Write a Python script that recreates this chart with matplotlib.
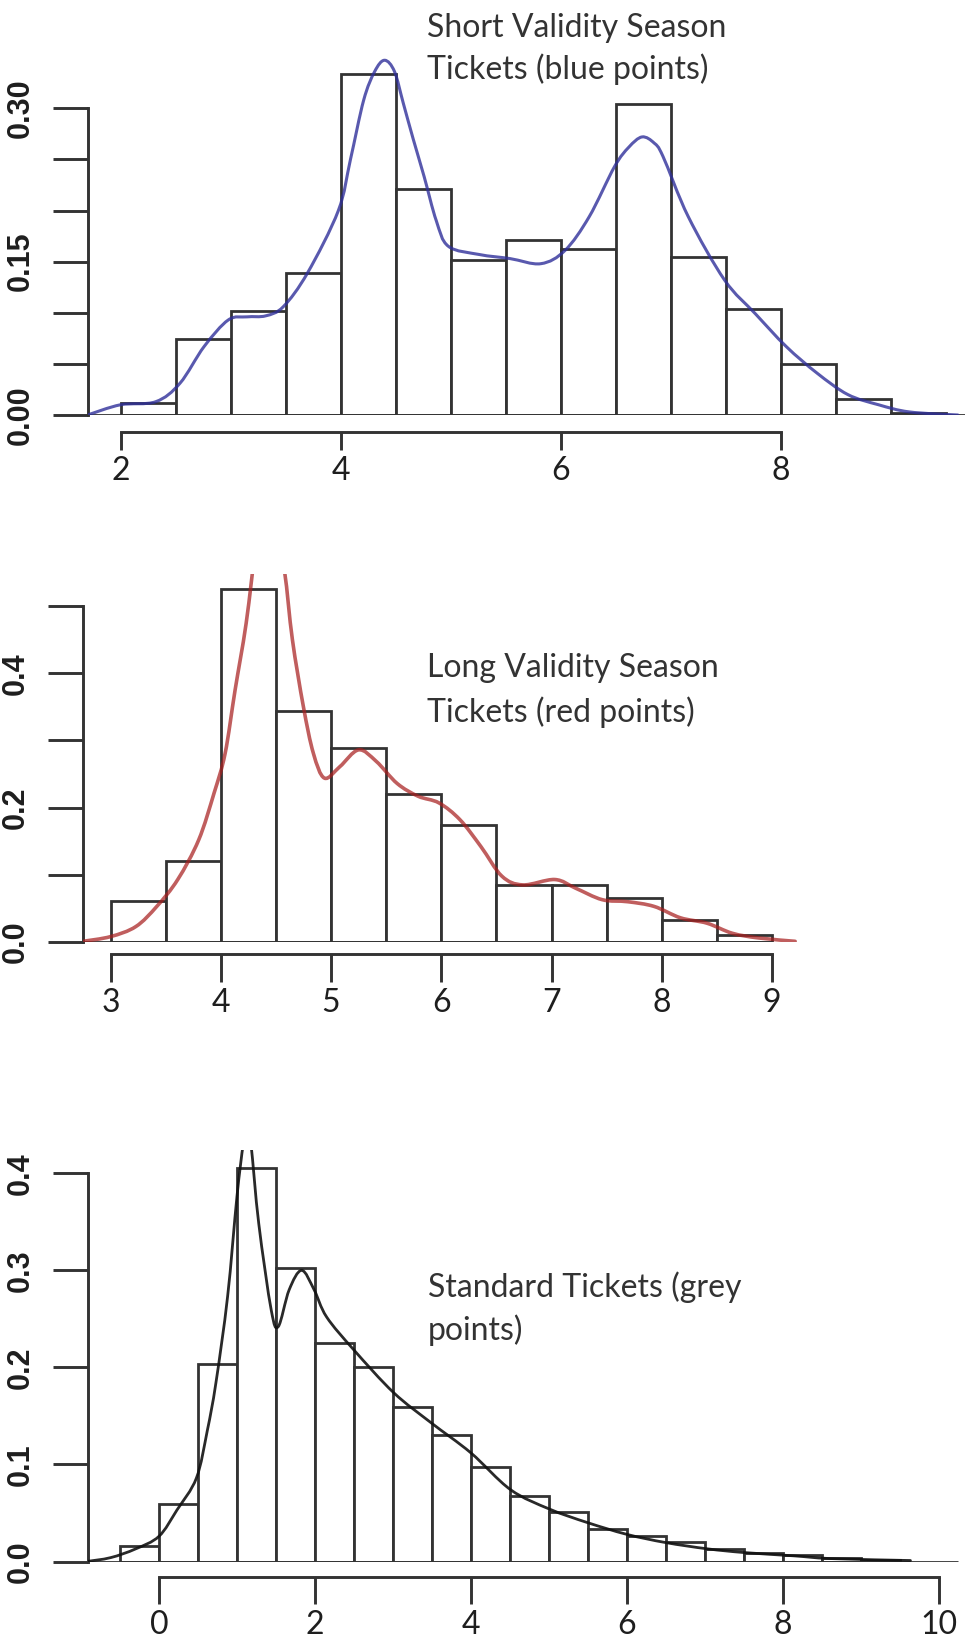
import matplotlib
matplotlib.use('Agg')
import matplotlib.pyplot as plt
from matplotlib.path import Path
from matplotlib.patches import PathPatch
import numpy as np

W, H = 965, 1641
BIN = 0.5

# short validity season tickets
short_start = 2.0
short_density = [0.012, 0.074, 0.102, 0.139, 0.334, 0.221, 0.152, 0.171, 0.162,
                 0.304, 0.155, 0.104, 0.050, 0.016, 0.002]
short_kde_x = [1.70, 2.00, 2.32, 2.54, 2.76, 2.98, 3.15, 3.32, 3.48, 3.70, 3.98, 4.09,
               4.21, 4.31, 4.40, 4.49, 4.57, 4.66, 4.76, 4.87, 4.98, 5.26, 5.54, 5.82,
               6.04, 6.26, 6.49, 6.62, 6.74, 6.85, 6.93, 7.16, 7.49, 7.77, 8.05, 8.33,
               8.61, 8.89, 9.17, 9.61]
short_kde_y = [0.000, 0.010, 0.013, 0.031, 0.067, 0.093, 0.096, 0.097, 0.106, 0.139, 0.200, 0.250,
               0.308, 0.336, 0.347, 0.336, 0.305, 0.270, 0.233, 0.190, 0.165, 0.157, 0.153, 0.148,
               0.161, 0.194, 0.243, 0.262, 0.272, 0.266, 0.253, 0.194, 0.132, 0.099, 0.067, 0.041,
               0.020, 0.010, 0.003, 0.000]

# long validity season tickets
long_start = 3.0
long_density = [0.0605, 0.120, 0.525, 0.344, 0.289, 0.220, 0.174, 0.085, 0.085, 0.066, 0.033, 0.011]
long_kde_x = [2.75, 3.00, 3.23, 3.42, 3.61, 3.80, 3.94, 4.04, 4.13, 4.23, 4.33, 4.42, 4.51, 4.58,
              4.65, 4.75, 4.84, 4.94, 5.08, 5.25, 5.41, 5.60, 5.79, 5.98, 6.17, 6.36, 6.55, 6.74,
              7.03, 7.22, 7.46, 7.69, 7.93, 8.17, 8.41, 8.64, 8.88, 9.21]
long_kde_y = [0.001, 0.008, 0.023, 0.053, 0.093, 0.152, 0.222, 0.281, 0.375, 0.474, 0.600, 0.640,
              0.600, 0.550, 0.450, 0.350, 0.281, 0.244, 0.261, 0.286, 0.269, 0.236, 0.217, 0.207,
              0.182, 0.142, 0.098, 0.085, 0.093, 0.080, 0.063, 0.060, 0.053, 0.036, 0.028, 0.013,
              0.006, 0.001]

# standard tickets
std_start = -0.5
std_density = [0.016, 0.059, 0.204, 0.405, 0.302, 0.225, 0.200, 0.159, 0.130, 0.097, 0.0675,
               0.051, 0.034, 0.026, 0.020, 0.013, 0.009, 0.007, 0.004, 0.002]
std_kde_x = [-0.93, -0.62, -0.30, 0.00, 0.23, 0.48, 0.62, 0.73, 0.88, 1.00, 1.08, 1.13, 1.18,
             1.28, 1.44, 1.53, 1.67, 1.83, 1.99, 2.15, 2.50, 3.01, 3.49, 4.00, 4.51, 5.01, 5.50,
             6.00, 6.50, 7.04, 7.51, 8.15, 8.62, 9.64]
std_kde_y = [0.000, 0.004, 0.013, 0.026, 0.053, 0.086, 0.135, 0.184, 0.273, 0.376, 0.430, 0.450,
             0.430, 0.348, 0.259, 0.242, 0.280, 0.300, 0.280, 0.252, 0.218, 0.174, 0.143, 0.112,
             0.074, 0.054, 0.040, 0.028, 0.0195, 0.013, 0.0092, 0.0058, 0.003, 0.001]

LABEL_FONT = ['Lato', 'DejaVu Sans']
YTICK_FONT = ['Liberation Sans Narrow', 'Liberation Sans', 'DejaVu Sans']
INK = '#1e1e1e'
EDGE = '#333333'
PT = 72 / 100  # points per pixel at dpi 100


def place(ax, xref, pxref, yref, pyref, left, right, top, bottom):
    """Position axes in pixel space so that data maps onto the given pixel references."""
    sx = (pxref[1] - pxref[0]) / (xref[1] - xref[0])
    sy = (pyref[0] - pyref[1]) / (yref[1] - yref[0])
    ax.set_position([left / W, 1 - bottom / H, (right - left) / W, (bottom - top) / H])
    ax.set_xlim(xref[0] + (left - pxref[0]) / sx, xref[0] + (right - pxref[0]) / sx)
    ax.set_ylim(yref[0] + (pyref[0] - bottom) / sy, yref[0] + (pyref[0] - top) / sy)


def smooth_path(x, y):
    # Catmull-Rom through the density points, drawn as cubic Bezier segments
    pts = np.column_stack([x, y])
    verts, codes = [pts[0]], [Path.MOVETO]
    n = len(pts)
    for i in range(n - 1):
        p0 = pts[max(i - 1, 0)]
        p1, p2 = pts[i], pts[i + 1]
        p3 = pts[min(i + 2, n - 1)]
        verts += [p1 + (p2 - p0) / 6, p2 - (p3 - p1) / 6, p2]
        codes += [Path.CURVE4] * 3
    return Path(verts, codes)


def panel(ax, start, density, kx, ky, color, lw, alpha, base_end,
          xticks, yticks, ylabels, axis_gap, xtick_len, text, text_xy, line_gap):
    edges = start + BIN * np.arange(len(density))
    ax.bar(edges, density, width=BIN, align='edge', facecolor='white',
           edgecolor=EDGE, linewidth=2.0, zorder=2)
    ax.hlines(0, ax.get_xlim()[0], base_end, color=EDGE, lw=2.0, zorder=2)
    ax.add_patch(PathPatch(smooth_path(kx, ky), fill=False, edgecolor=color, lw=lw,
                           alpha=alpha, zorder=3, joinstyle='round', capstyle='round'))

    for s in ['top', 'right']:
        ax.spines[s].set_visible(False)
    ax.spines['left'].set_bounds(yticks[0], yticks[-1])
    ax.spines['bottom'].set_bounds(xticks[0], xticks[-1])
    ax.spines['bottom'].set_position(('outward', axis_gap * PT))
    for s in ['left', 'bottom']:
        ax.spines[s].set_linewidth(2.1)
        ax.spines[s].set_color(EDGE)

    ax.set_yticks(yticks)
    ax.set_yticklabels(ylabels, rotation=90, va='center', family=YTICK_FONT,
                       fontweight='bold', fontsize=22)
    ax.set_xticks(xticks)
    ax.set_xticklabels([f'{t:g}' for t in xticks], family=LABEL_FONT, fontsize=23)
    ax.tick_params(axis='y', length=35 * PT, width=2.1, color=EDGE, pad=17 * PT,
                   labelcolor=INK)
    ax.tick_params(axis='x', length=xtick_len * PT, width=2.1, color=EDGE, pad=6 * PT,
                   labelcolor=INK)

    for i, line in enumerate(text):
        ax.text(text_xy[0], text_xy[1] - i * line_gap, line, family=LABEL_FONT,
                fontsize=23, color='#333333', ha='left', va='baseline', clip_on=False)


fig = plt.figure(figsize=(W / 100, H / 100), dpi=100)

ax1 = fig.add_axes([0, 0, 1, 1])
place(ax1, (2, 8), (120.5, 780.7), (0, 0.30), (415, 108.3), 88, 965, 0, 415)
panel(ax1, short_start, short_density, short_kde_x, short_kde_y, '#30309a', 2.2, 0.8,
      ax1.get_xlim()[1], [2, 4, 6, 8], [0, 0.05, 0.10, 0.15, 0.20, 0.25, 0.30],
      ['0.00', '', '', '0.15', '', '', '0.30'], 17, 18,
      ['Short Validity Season', 'Tickets (blue points)'], (4.786, 0.370), 0.041)

ax2 = fig.add_axes([0, 0, 1, 1])
place(ax2, (3, 9), (110.5, 772), (0, 0.4), (942, 673.3), 83, 965, 573.5, 942)
panel(ax2, long_start, long_density, long_kde_x, long_kde_y, '#a82020', 2.6, 0.72,
      9.0, [3, 4, 5, 6, 7, 8, 9], [0, 0.1, 0.2, 0.3, 0.4, 0.5],
      ['0.0', '', '0.2', '', '0.4', ''], 12, 28,
      ['Long Validity Season', 'Tickets (red points)'], (5.87, 0.394), 0.066)

ax3 = fig.add_axes([0, 0, 1, 1])
place(ax3, (0, 10), (159, 938.5), (0, 0.4), (1561.5, 1173.3), 88, 965, 1150, 1561.5)
panel(ax3, std_start, std_density, std_kde_x, std_kde_y, '#111111', 2.0, 0.9,
      10.25, [0, 2, 4, 6, 8, 10], [0, 0.1, 0.2, 0.3, 0.4],
      ['0.0', '0.1', '0.2', '0.3', '0.4'], 15, 27,
      ['Standard Tickets (grey', 'points)'], (3.445, 0.2725), 0.0445)

fig.savefig('out.png', dpi=100, facecolor='white')
